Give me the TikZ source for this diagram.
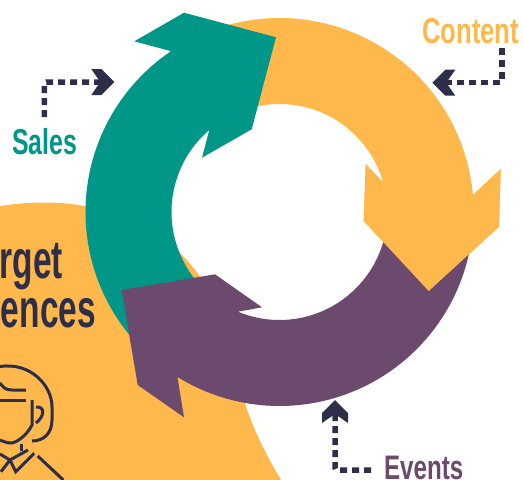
\documentclass[tikz,border=0pt]{standalone}
\usepackage{fontspec}
\setmainfont{Liberation Sans}
\usetikzlibrary{calc}
\definecolor{gold}{HTML}{FFB84C}
\definecolor{teal2}{HTML}{009688}
\definecolor{plum}{HTML}{6C4A6E}
\definecolor{navy}{HTML}{2D2E4A}
\tikzset{
	dashline/.style={navy,line width=5.5pt,dash pattern=on 7pt off 5pt,rounded corners=2pt},
	chevron/.pic={\fill[navy] (-23,-13)--(-13,-13)--(0,0)--(-13,13)--(-23,13)--(-14,0)--cycle;},
	lbl/.style={font=\fontsize{36}{36}\selectfont\bfseries,inner sep=0pt},
	bigtxt/.style={font=\fontsize{54}{54}\selectfont\bfseries,inner sep=0pt,text=navy,xscale=.62,anchor=base east},
	icon/.style={navy,line width=3pt}
}
% part of the gold ring from a given angle, with its head
\newcommand{\goldarrow}[1]{
	\fill[gold] ($(ring)+(#1:194)$) arc[start angle=#1,end angle=-5.3,radius=194]
		--(474,194)--(500.7,169)--(499,226.7)--(428.7,291)--(363.7,221)--(365.7,164)--(384.7,184)
		--($(ring)+(-14.8:108)$) arc[start angle=-14.8,end angle=#1,radius=108]--cycle;
}
\begin{document}
\begin{tikzpicture}[x=1pt,y=-1pt]
	\useasboundingbox (0,0) rectangle (523,480);
	\coordinate (ring) at (279.5,212);
	% blob behind
	\fill[gold] (0,206) .. controls (40,200) and (75,202) .. (100,210)
		.. controls (150,224) and (185,250) .. (205,285)
		.. controls (222,320) and (230,365) .. (245,403)
		.. controls (253,430) and (268,458) .. (281,480)--(0,480)--cycle;
	\node[bigtxt] (rget) at (63,278) {rget};
	\node[bigtxt] (ences) at (96,327) {ences};
	% person
	\draw[icon] (0,366.5) .. controls (30,362) and (52,385) .. (52,407)--(52,420) .. controls (52,433) and (44,441) .. (32,441);
	\draw[icon] (0,383) .. controls (3,387) and (5,390) .. (12,390)--(26,390);
	\draw[icon] (0,400)--(26,400);
	\draw[icon] (32,400)--(32,425) .. controls (28,433) and (20,441) .. (12,443) .. controls (8,443) and (4,442) .. (0,440);
	\draw[icon] (36,407) .. controls (45,406) and (45,416) .. (36,423);
	\draw[icon] (21.7,444)--(21.7,451);
	\draw[icon] (28,450)--(10,460)--(15.7,471.7)--(34.3,453.3);
	\draw[icon] (0,454)--(10,460)--(1,471.7);
	\draw[icon] (37.7,456)--(63.3,480);
	% ring arrows
	\goldarrow{-110}
	\fill[teal2] ($(ring)+(135:194)$) arc[start angle=135,end angle=236,radius=194]
		--(134.3,41.3)--(184,12.7)--(276,37.3)--(251.7,129.3)--(202,157.7)--(209.3,130)
		--($(ring)+(229.6:108)$) arc[start angle=229.6,end angle=135,radius=108]--cycle;
	\fill[plum] ($(ring)+(10:194)$) arc[start angle=10,end angle=121.8,radius=194]
		--(177.3,376)--(184,417.3)--(137.7,385)--(121.7,290)--(215,274.3)--(262,307.3)--(238,311.7)
		--($(ring)+(112.4:108)$) arc[start angle=112.4,end angle=10,radius=108]--cycle;
	\goldarrow{-50}
	% labels
	\node[lbl,text=gold,xscale=.71,anchor=base east] (content) at (519,43.5) {Content};
	\node[lbl,text=teal2,xscale=.69,anchor=base west] (sales) at (12,154) {Sales};
	\node[lbl,text=plum,xscale=.71,anchor=base west,font=\fontsize{34}{34}\selectfont\bfseries] (events) at (384,479) {Events};
	% connectors
	\coordinate (salesFrom) at (44.3,117);
	\coordinate (salesTo) at (108,82);
	\coordinate (contentFrom) at (502,48);
	\coordinate (contentTo) at (438,82.7);
	\coordinate (eventsFrom) at (371,470);
	\coordinate (eventsTo) at (335,406);
	\draw[dashline] (salesFrom) |- (salesTo);
	\draw[dashline] (contentFrom) |- (contentTo);
	\draw[dashline] (eventsFrom) -| (eventsTo);
	\pic at (114.3,82) {chevron};
	\pic[rotate=180] at (432.3,82.7) {chevron};
	\pic[rotate=90] at (335,400) {chevron};
\end{tikzpicture}
\end{document}
